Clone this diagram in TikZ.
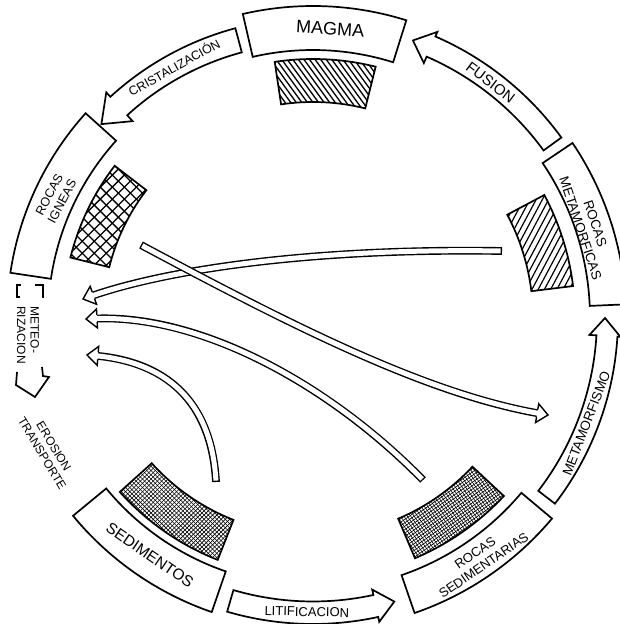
\documentclass[tikz,border=0pt]{standalone}
\usepackage{fontspec}
\setmainfont{Liberation Sans}
\begin{document}
\begin{tikzpicture}[x=1pt, y=1pt,
  annulus/.style n args={4}{insert path={(#1:#4) arc[start angle=#1,end angle=#2,radius=#4] -- (#2:#3) arc[start angle=#2,end angle=#1,radius=#3] -- cycle}},
  blockarrow/.style n args={8}{insert path={(#1:#5) arc[start angle=#1,end angle=#2,radius=#5] -- (#2:#7) -- (#3:#8) -- (#2:#6) -- (#2:#4) arc[start angle=#2,end angle=#1,radius=#4] -- cycle}},
  boxline/.style={draw=black, fill=white, line width=1.7pt, line join=miter},
  lbl/.style={inner sep=0pt, align=center},
  shaftout/.style={draw=black, line width=7.8pt, shorten >=6pt},
  shaftin/.style={draw=white, line width=5pt, shorten <=1.4pt, shorten >=5pt},
  openhead/.pic={\filldraw[fill=white, line width=1.4pt, line join=miter]
     (-11,3.6) -- (-11,9.5) -- (0,0) -- (-11,-9.5) -- (-11,-3.6);}
]
\useasboundingbox (0,0) rectangle (620,624);
\clip (0,0) rectangle (620,624);

% ---------- weathering arrow with its label ----------
\begin{scope}[line width=1.7pt, line join=miter]
  \draw (21,339) -- (17,339) -- (17,327) -- (20,327);
  \draw (35,339) -- (43,339) -- (43,326);
  \draw (42,257) -- (43,248) -- (49,247) -- (35,227) -- (16,239) -- (17,252);
\end{scope}
\node[lbl, align=left, rotate=-90, font=\fontsize{12}{13.5}\selectfont] (meteo) at (28,289) {METEO-\\RIZACION};
\node[lbl, rotate=-59, font=\fontsize{12}{13.5}\selectfont] (erosion) at (48,174) {EROSION\\TRANSPORTE};

\begin{scope}[shift={(313,306)}]
  % ---------- magma ----------
  \draw[boxline, annulus={72.6}{103}{268}{312}];
  \node[lbl, rotate=-3.4, font=\fontsize{18}{20}\selectfont] (magma) at (86.6:290) {MAGMA};
  \begin{scope}
    \clip[annulus={76}{98.5}{216}{259}];
    \foreach \k in {-14,...,14}
      \draw[line width=1.3pt, shift={(87:237)}, rotate=-54] (-70,\k*4.5) -- (70,\k*4.5);
  \end{scope}
  \draw[boxline, fill=none, annulus={76}{98.5}{216}{259}];

  % ---------- igneous rocks ----------
  \draw[boxline, annulus={138}{171.5}{265}{306}];
  \node[lbl, rotate=62, font=\fontsize{12.5}{14.5}\selectfont] (ignea) at (155:284) {ROCAS\\IGNEAS};
  \begin{scope}
    \clip[annulus={142.5}{166}{210}{250}];
    \foreach \k in {-8,...,8} {
      \draw[line width=1.3pt, shift={(154:230)}, rotate=45] (-70,\k*8.5) -- (70,\k*8.5);
      \draw[line width=1.3pt, shift={(154:230)}, rotate=-45] (-70,\k*8.5) -- (70,\k*8.5);
    }
  \end{scope}
  \draw[boxline, fill=none, annulus={142.5}{166}{210}{250}];

  % ---------- sediments ----------
  \draw[boxline, annulus={219.5}{251}{268}{311}];
  \node[lbl, rotate=-34.5, font=\fontsize{15.5}{17}\selectfont] (sedim) at (235.5:288) {SEDIMENTOS};
  \begin{scope}
    \clip[annulus={222}{248.5}{217}{260}];
    \foreach \k in {-22,...,22} {
      \draw[line width=0.6pt, shift={(235:238)}, rotate=45] (-70,\k*3) -- (70,\k*3);
      \draw[line width=0.6pt, shift={(235:238)}, rotate=-45] (-70,\k*3) -- (70,\k*3);
    }
  \end{scope}
  \draw[boxline, fill=none, annulus={222}{248.5}{217}{260}];

  % ---------- sedimentary rocks ----------
  \draw[boxline, annulus={289}{320}{272}{312}];
  \node[lbl, rotate=34.6, font=\fontsize{13}{15}\selectfont] (sedrock) at (304.6:293) {ROCAS\\SEDIMENTARIAS};
  \begin{scope}
    \clip[annulus={293}{317}{218}{261}];
    \foreach \k in {-22,...,22} {
      \draw[line width=0.6pt, shift={(305:240)}, rotate=35] (-70,\k*2.8) -- (70,\k*2.8);
      \draw[line width=0.6pt, shift={(305:240)}, rotate=125] (-70,\k*2.8) -- (70,\k*2.8);
    }
  \end{scope}
  \draw[boxline, fill=none, annulus={293}{317}{218}{261}];

  % ---------- metamorphic rocks ----------
  \draw[boxline, annulus={2.5}{34}{277}{313}];
  \node[lbl, rotate=-71.5, font=\fontsize{13.5}{15.5}\selectfont] (metarock) at (18.5:290) {ROCAS\\METAMORFICAS};
  \begin{scope}
    \clip[annulus={7}{28}{220}{262}];
    \foreach \k in {-12,...,12}
      \draw[line width=1.2pt, shift={(17.5:241)}, rotate=62] (-70,\k*5.5) -- (70,\k*5.5);
  \end{scope}
  \draw[boxline, fill=none, annulus={7}{28}{220}{262}];

  % ---------- process arrows round the cycle ----------
  \draw[boxline, blockarrow={105}{132.5}{137.5}{275}{300}{267}{306}{287}];
  \node[lbl, rotate=29, font=\fontsize{12.5}{14}\selectfont] (crist) at (119:287) {CRISTALIZACIÓN};

  \draw[boxline, blockarrow={36}{66.5}{70.2}{285}{307}{278}{312}{295}];
  \node[lbl, rotate=-37, font=\fontsize{15}{17}\selectfont] (fusion) at (53:295) {FUSION};

  \draw[boxline, blockarrow={253.7}{282.3}{286}{283.5}{306}{278}{311}{295}];
  \node[lbl, rotate=-1.2, font=\fontsize{13}{15}\selectfont] (litif) at (268.8:294) {LITIFICACION};

  \draw[boxline, blockarrow={322.5}{356.5}{360}{284}{305}{277}{308}{292}];
  \node[lbl, rotate=68.9, font=\fontsize{13.5}{15}\selectfont] (metamor) at (338.9:293) {METAMORFISMO};

  % ---------- inner transfer arrows ----------
  \coordinate (tA) at (189,67);   \coordinate (cA1) at (7,70);
  \coordinate (cA2) at (-143,50); \coordinate (hA) at (-230,19);
  \coordinate (tB) at (110,-162); \coordinate (cB1) at (17,-67);
  \coordinate (cB2) at (-113,5);  \coordinate (hB) at (-227,-1);
  \coordinate (tC) at (-97,-164); \coordinate (cC1) at (-101,-92);
  \coordinate (cC2) at (-138,-44);\coordinate (hC) at (-226,-37);
  \coordinate (tD) at (-172,73);  \coordinate (cD1) at (-13,-12);
  \coordinate (cD2) at (117,-77); \coordinate (hD) at (235,-97);

  \def\pathA{(tA) .. controls (cA1) and (cA2) .. (hA)}
  \def\pathB{(tB) .. controls (cB1) and (cB2) .. (hB)}
  \def\pathC{(tC) .. controls (cC1) and (cC2) .. (hC)}
  \def\pathD{(tD) .. controls (cD1) and (cD2) .. (hD)}

  \draw[shaftout] \pathA; \draw[shaftin] \pathA;
  \pic[rotate=199.6] at (hA) {openhead};
  \draw[shaftout] \pathB; \draw[shaftin] \pathB;
  \pic[rotate=183] at (hB) {openhead};
  \draw[shaftout] \pathC; \draw[shaftin] \pathC;
  \pic[rotate=175.5] at (hC) {openhead};
  \draw[shaftout] \pathD; \draw[shaftin] \pathD;
  \pic[rotate=-9.6] at (hD) {openhead};
\end{scope}
\end{tikzpicture}
\end{document}
